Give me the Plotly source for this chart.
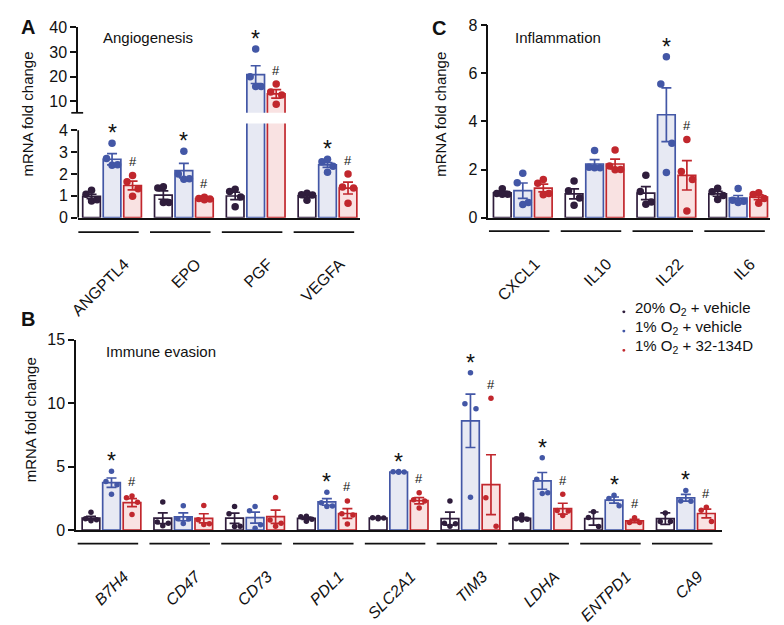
import numpy as np
import plotly.graph_objects as go

W, H = 784, 625
FONT = "Liberation Sans, Arial, Helvetica, sans-serif"

# ---------------- data ----------------
conditions = ["20% O<sub>2</sub> + vehicle", "1% O<sub>2</sub> + vehicle", "1% O<sub>2</sub> + 32-134D"]

# Panel A - Angiogenesis
a_genes = ["ANGPTL4", "EPO", "PGF", "VEGFA"]
a_mean_20 = [0.97, 1.03, 0.99, 1.00]
a_mean_1 = [2.67, 2.15, 20.8, 2.41]
a_mean_d = [1.47, 0.87, 13.0, 1.35]
a_sem_20 = [0.10, 0.19, 0.17, 0.07]
a_sem_1 = [0.26, 0.33, 3.6, 0.11]
a_sem_d = [0.20, 0.03, 1.7, 0.27]
a_pts_20 = [[1.07, 1.25, 0.76, 0.82], [1.35, 1.41, 0.69, 0.69], [1.20, 1.30, 0.94, 0.50], [1.11, 1.04, 1.05, 0.79]]
a_pts_1 = [[3.40, 2.40, 2.42, 2.70], [3.04, 2.00, 1.78, 1.76], [31.2, 19.9, 16.0, 16.0], [2.55, 2.67, 2.08, 2.35]]
a_pts_d = [[1.93, 1.64, 1.32, 0.98], [0.93, 0.88, 0.82, 0.85], [17.0, 13.8, 12.5, 8.8], [1.99, 1.40, 1.35, 0.66]]
a_sig_1 = [True, True, True, True]
a_sig_d = [True, True, True, True]

# Panel C - Inflammation
c_genes = ["CXCL1", "IL10", "IL22", "IL6"]
c_mean_20 = [1.03, 0.99, 1.02, 0.99]
c_mean_1 = [1.12, 2.23, 4.28, 0.81]
c_mean_d = [1.23, 2.23, 1.76, 0.85]
c_sem_20 = [0.06, 0.21, 0.27, 0.10]
c_sem_1 = [0.32, 0.18, 1.12, 0.11]
c_sem_d = [0.16, 0.20, 0.61, 0.10]
c_pts_20 = [[1.20, 1.00, 0.97, 0.97], [1.52, 1.12, 0.82, 0.52], [1.76, 1.09, 0.56, 0.65], [1.22, 1.08, 0.92, 0.75]]
c_pts_1 = [[1.85, 1.45, 0.55, 0.63], [2.79, 2.08, 2.08, 2.10], [6.69, 5.56, 3.09, 1.88], [1.21, 0.72, 0.68, 0.63]]
c_pts_d = [[1.43, 1.59, 1.00, 0.95], [2.81, 2.15, 1.99, 2.00], [3.25, 1.92, 1.59, 0.28], [1.04, 0.96, 0.80, 0.60]]
c_sig_1 = [False, False, True, False]
c_sig_d = [False, False, True, False]

# Panel B - Immune evasion
b_genes = ["B7H4", "CD47", "CD73", "PDL1", "SLC2A1", "TIM3", "LDHA", "ENTPD1", "CA9"]
b_mean_20 = [0.95, 0.94, 0.94, 0.93, 0.95, 0.91, 0.93, 0.91, 0.91]
b_mean_1 = [3.74, 1.05, 0.99, 2.22, 4.58, 8.61, 3.88, 2.37, 2.55]
b_mean_d = [2.17, 0.93, 1.06, 1.31, 2.32, 3.58, 1.69, 0.73, 1.31]
b_sem_20 = [0.14, 0.42, 0.40, 0.09, 0.03, 0.51, 0.08, 0.52, 0.45]
b_sem_1 = [0.37, 0.31, 0.43, 0.26, 0.02, 2.10, 0.66, 0.24, 0.27]
b_sem_d = [0.31, 0.36, 0.52, 0.38, 0.25, 2.36, 0.43, 0.13, 0.35]
b_pts_20 = [[1.41, 0.90, 0.82, 0.75], [2.22, 0.65, 0.55, 0.35], [1.87, 1.30, 0.30, 0.28], [1.10, 1.05, 0.85, 0.70],
            [1.00, 0.98, 0.95, 0.90], [2.30, 0.55, 0.50, 0.30], [1.20, 0.90, 0.85, 0.80], [1.45, 1.00, 0.28],
            [1.36, 0.68, 0.68]]
b_pts_1 = [[4.64, 3.84, 3.58, 2.83], [1.92, 0.90, 0.88, 0.52], [1.86, 1.52, 0.42, 0.15], [2.98, 2.15, 1.90, 1.87],
           [4.62, 4.58, 4.57, 4.60], [12.4, 9.95, 9.57, 2.60], [5.70, 4.00, 2.95, 2.88], [2.75, 2.50, 1.92],
           [3.13, 2.27, 2.30]]
b_pts_d = [[2.70, 2.55, 2.20, 1.24], [1.94, 0.82, 0.50, 0.45], [2.58, 0.80, 0.55, 0.30], [2.30, 1.30, 1.20, 0.48],
           [2.95, 2.40, 2.30, 1.75], [10.4, 2.55, 0.30], [2.83, 1.54, 1.50, 1.16], [0.98, 0.60, 0.60],
           [1.80, 1.57, 0.68]]
b_sig_1 = [True, False, False, True, True, True, True, True, True]
b_sig_d = [True, False, False, True, True, True, True, True, True]

# ---------------- styles ----------------
LINE = ["#2f1d3c", "#4357a6", "#c1272d"]
FILL = ["#ffffff", "#e7e9f3", "#f9e2e2"]
DOT = ["#2f1d3c", "#4357a6", "#c1272d"]
GAP = 3.5
BW = 0.86


def py(p):
    return 1 - p / H


def px(p):
    return p / W


def jitter(vals):
    n = len(vals)
    order = np.argsort(-np.asarray(vals), kind="stable")
    pattern = {1: [0], 2: [-0.2, 0.2], 3: [0.0, -0.25, 0.25], 4: [0.0, -0.27, 0.27, 0.0]}[n]
    off = np.zeros(n)
    for rank, idx in enumerate(order):
        off[idx] = pattern[rank]
    return off


fig = go.Figure()
annotations = []
shapes = []


def add_panel(genes, means, sems, pts, axis_pairs, dsize):
    for xa, ya in axis_pairs:
        for c in range(3):
            xs = [g * GAP + c for g in range(len(genes))]
            fig.add_trace(go.Bar(
                x=xs, y=means[c], width=BW, xaxis=xa, yaxis=ya, showlegend=False,
                marker=dict(color=FILL[c], line=dict(color=LINE[c], width=1.7)),
                error_y=dict(type="data", array=sems[c], color=LINE[c], thickness=1.7, width=5),
                hoverinfo="skip"))
        for c in range(3):
            xx, yy = [], []
            for g in range(len(genes)):
                off = jitter(pts[c][g])
                xx += list(g * GAP + c + off)
                yy += list(pts[c][g])
            fig.add_trace(go.Scatter(
                x=xx, y=yy, mode="markers", xaxis=xa, yaxis=ya, showlegend=False,
                marker=dict(color=DOT[c], size=dsize, line=dict(width=0)), hoverinfo="skip"))


def add_sig(genes, means, sems, pts, sig1, sigd, yref_fn, xref):
    for g in range(len(genes)):
        for c, flag, sym, fs, sh in [(1, sig1[g], "*", 23, 10), (2, sigd[g], "#", 13, 14)]:
            if not flag:
                continue
            top = max(max(pts[c][g]), means[c][g] + sems[c][g])
            annotations.append(dict(x=g * GAP + c, y=top, xref=xref, yref=yref_fn(top), text=sym,
                                    showarrow=False, yanchor="middle", yshift=sh,
                                    font=dict(family=FONT, size=fs, color="#111111")))


def underline(genes, xref, ypix):
    for g in range(len(genes)):
        shapes.append(dict(type="line", xref=xref, yref="paper", x0=g * GAP - 0.65, x1=g * GAP + 2.3,
                           y0=py(ypix), y1=py(ypix), line=dict(color="#111111", width=1.7)))


# Panel A: lower (x, y) and upper (x2, y2)
a_means = [a_mean_20, a_mean_1, a_mean_d]
a_sems = [a_sem_20, a_sem_1, a_sem_d]
a_pts = [a_pts_20, a_pts_1, a_pts_d]
add_panel(a_genes, a_means, a_sems, a_pts, [("x", "y"), ("x2", "y2")], 7.5)
add_sig(a_genes, a_means, a_sems, a_pts, a_sig_1, a_sig_d, lambda v: "y2" if v > 4.3 else "y", "x")

# Panel C
c_means = [c_mean_20, c_mean_1, c_mean_d]
c_sems = [c_sem_20, c_sem_1, c_sem_d]
c_pts = [c_pts_20, c_pts_1, c_pts_d]
add_panel(c_genes, c_means, c_sems, c_pts, [("x3", "y3")], 7.5)
add_sig(c_genes, c_means, c_sems, c_pts, c_sig_1, c_sig_d, lambda v: "y3", "x3")

# Panel B
b_means = [b_mean_20, b_mean_1, b_mean_d]
b_sems = [b_sem_20, b_sem_1, b_sem_d]
b_pts = [b_pts_20, b_pts_1, b_pts_d]
add_panel(b_genes, b_means, b_sems, b_pts, [("x4", "y4")], 5.5)
add_sig(b_genes, b_means, b_sems, b_pts, b_sig_1, b_sig_d, lambda v: "y4", "x4")

underline(a_genes, "x", 233)
underline(c_genes, "x3", 232)
underline(b_genes, "x4", 557)

# axis line for lower segment of A (0..4) and break mark
shapes.append(dict(type="line", xref="x domain", yref="y", x0=0, x1=0, y0=0, y1=4,
                   line=dict(color="#111111", width=1.7)))
shapes.append(dict(type="line", xref="paper", yref="paper", x0=px(63), x1=px(75), y0=py(109), y1=py(109),
                   line=dict(color="#111111", width=1.7)))

tickfont = dict(family=FONT, size=16, color="#111111")
cattick = dict(family=FONT, size=16, color="#111111")

common_y = dict(showgrid=False, zeroline=False, ticks="outside", ticklen=6, tickwidth=1.7, tickcolor="#111111",
                linecolor="#111111", linewidth=1.7, tickfont=tickfont, fixedrange=True)
common_x = dict(showgrid=False, zeroline=False, ticks="", linecolor="#111111", linewidth=1.7, showline=True,
                tickangle=-45, tickfont=cattick, ticklabelstandoff=29, fixedrange=True)


def centers(genes):
    return [g * GAP + 1.6 for g in range(len(genes))]


fig.update_layout(
    width=W, height=H, margin=dict(l=0, r=0, t=0, b=0), paper_bgcolor="white", plot_bgcolor="white",
    barmode="overlay", showlegend=False, font=dict(family=FONT, color="#111111"),
    xaxis=dict(common_x, domain=[px(70), px(355)], range=[-0.65, 13.08], anchor="y",
               tickvals=centers(a_genes), ticktext=a_genes),
    yaxis=dict(common_y, domain=[py(218), py(120)], range=[0, 4.31], anchor="x", showline=False,
               tickvals=[0, 1, 2, 3, 4]),
    xaxis2=dict(domain=[px(70), px(355)], range=[-0.65, 13.08], anchor="y2", visible=False, matches="x"),
    yaxis2=dict(common_y, domain=[py(109), py(20)], range=[5.33, 40], anchor="x2", showline=True,
                tickvals=[10, 20, 30, 40]),
    xaxis3=dict(common_x, domain=[px(485), px(770)], range=[-0.675, 13.06], anchor="y3",
                tickvals=centers(c_genes), ticktext=c_genes),
    yaxis3=dict(common_y, domain=[py(218), py(18)], range=[0, 8], anchor="x3", showline=True,
                tickvals=[0, 2, 4, 6, 8]),
    xaxis4=dict(common_x, domain=[px(68), px(721)], range=[-0.72, 30.75], anchor="y4",
                tickvals=centers(b_genes), ticktext=b_genes,
                tickfont=dict(family=FONT, size=16, color="#111111", style="italic")),
    yaxis4=dict(common_y, domain=[py(543), py(345)], range=[0, 15], anchor="x4", showline=True,
                tickvals=[0, 5, 10, 15]),
)


# titles, panel letters, legend
def txt(x, y, text, size=15, bold=False, angle=0, xanchor="center", color="#111111"):
    annotations.append(dict(x=px(x), y=py(y), xref="paper", yref="paper", text=(f"<b>{text}</b>" if bold else text),
                            showarrow=False, textangle=angle, xanchor=xanchor, yanchor="middle",
                            font=dict(family=FONT, size=size, color=color)))


txt(19, 20, "A", 20, bold=True)
txt(435, 21, "C", 20, bold=True)
txt(19, 323, "B", 20, bold=True)
txt(93, 31, "Angiogenesis", 15, xanchor="left")
txt(510, 31, "Inflammation", 15, xanchor="left")
txt(96, 357, "Immune evasion", 15, xanchor="left")
txt(19, 110, "mRNA fold change", 15, angle=-90)
txt(437, 110, "mRNA fold change", 15, angle=-90)
txt(22, 428, "mRNA fold change", 15, angle=-90)

leg_y = [312, 332, 352]
for i, name in enumerate(conditions):
    txt(631, leg_y[i], name, 15, xanchor="left")
    shapes.append(dict(type="circle", xref="paper", yref="paper", x0=px(620.5), x1=px(623.5),
                       y0=py(leg_y[i] + 5.5), y1=py(leg_y[i] + 2.5), fillcolor=DOT[i], line=dict(width=0)))

fig.update_layout(annotations=annotations, shapes=shapes)
fig.write_html("out.html", config={"displayModeBar": False},
               post_script="document.body.style.margin='0';document.body.style.padding='0';"
                           "document.documentElement.style.overflow='hidden';")
